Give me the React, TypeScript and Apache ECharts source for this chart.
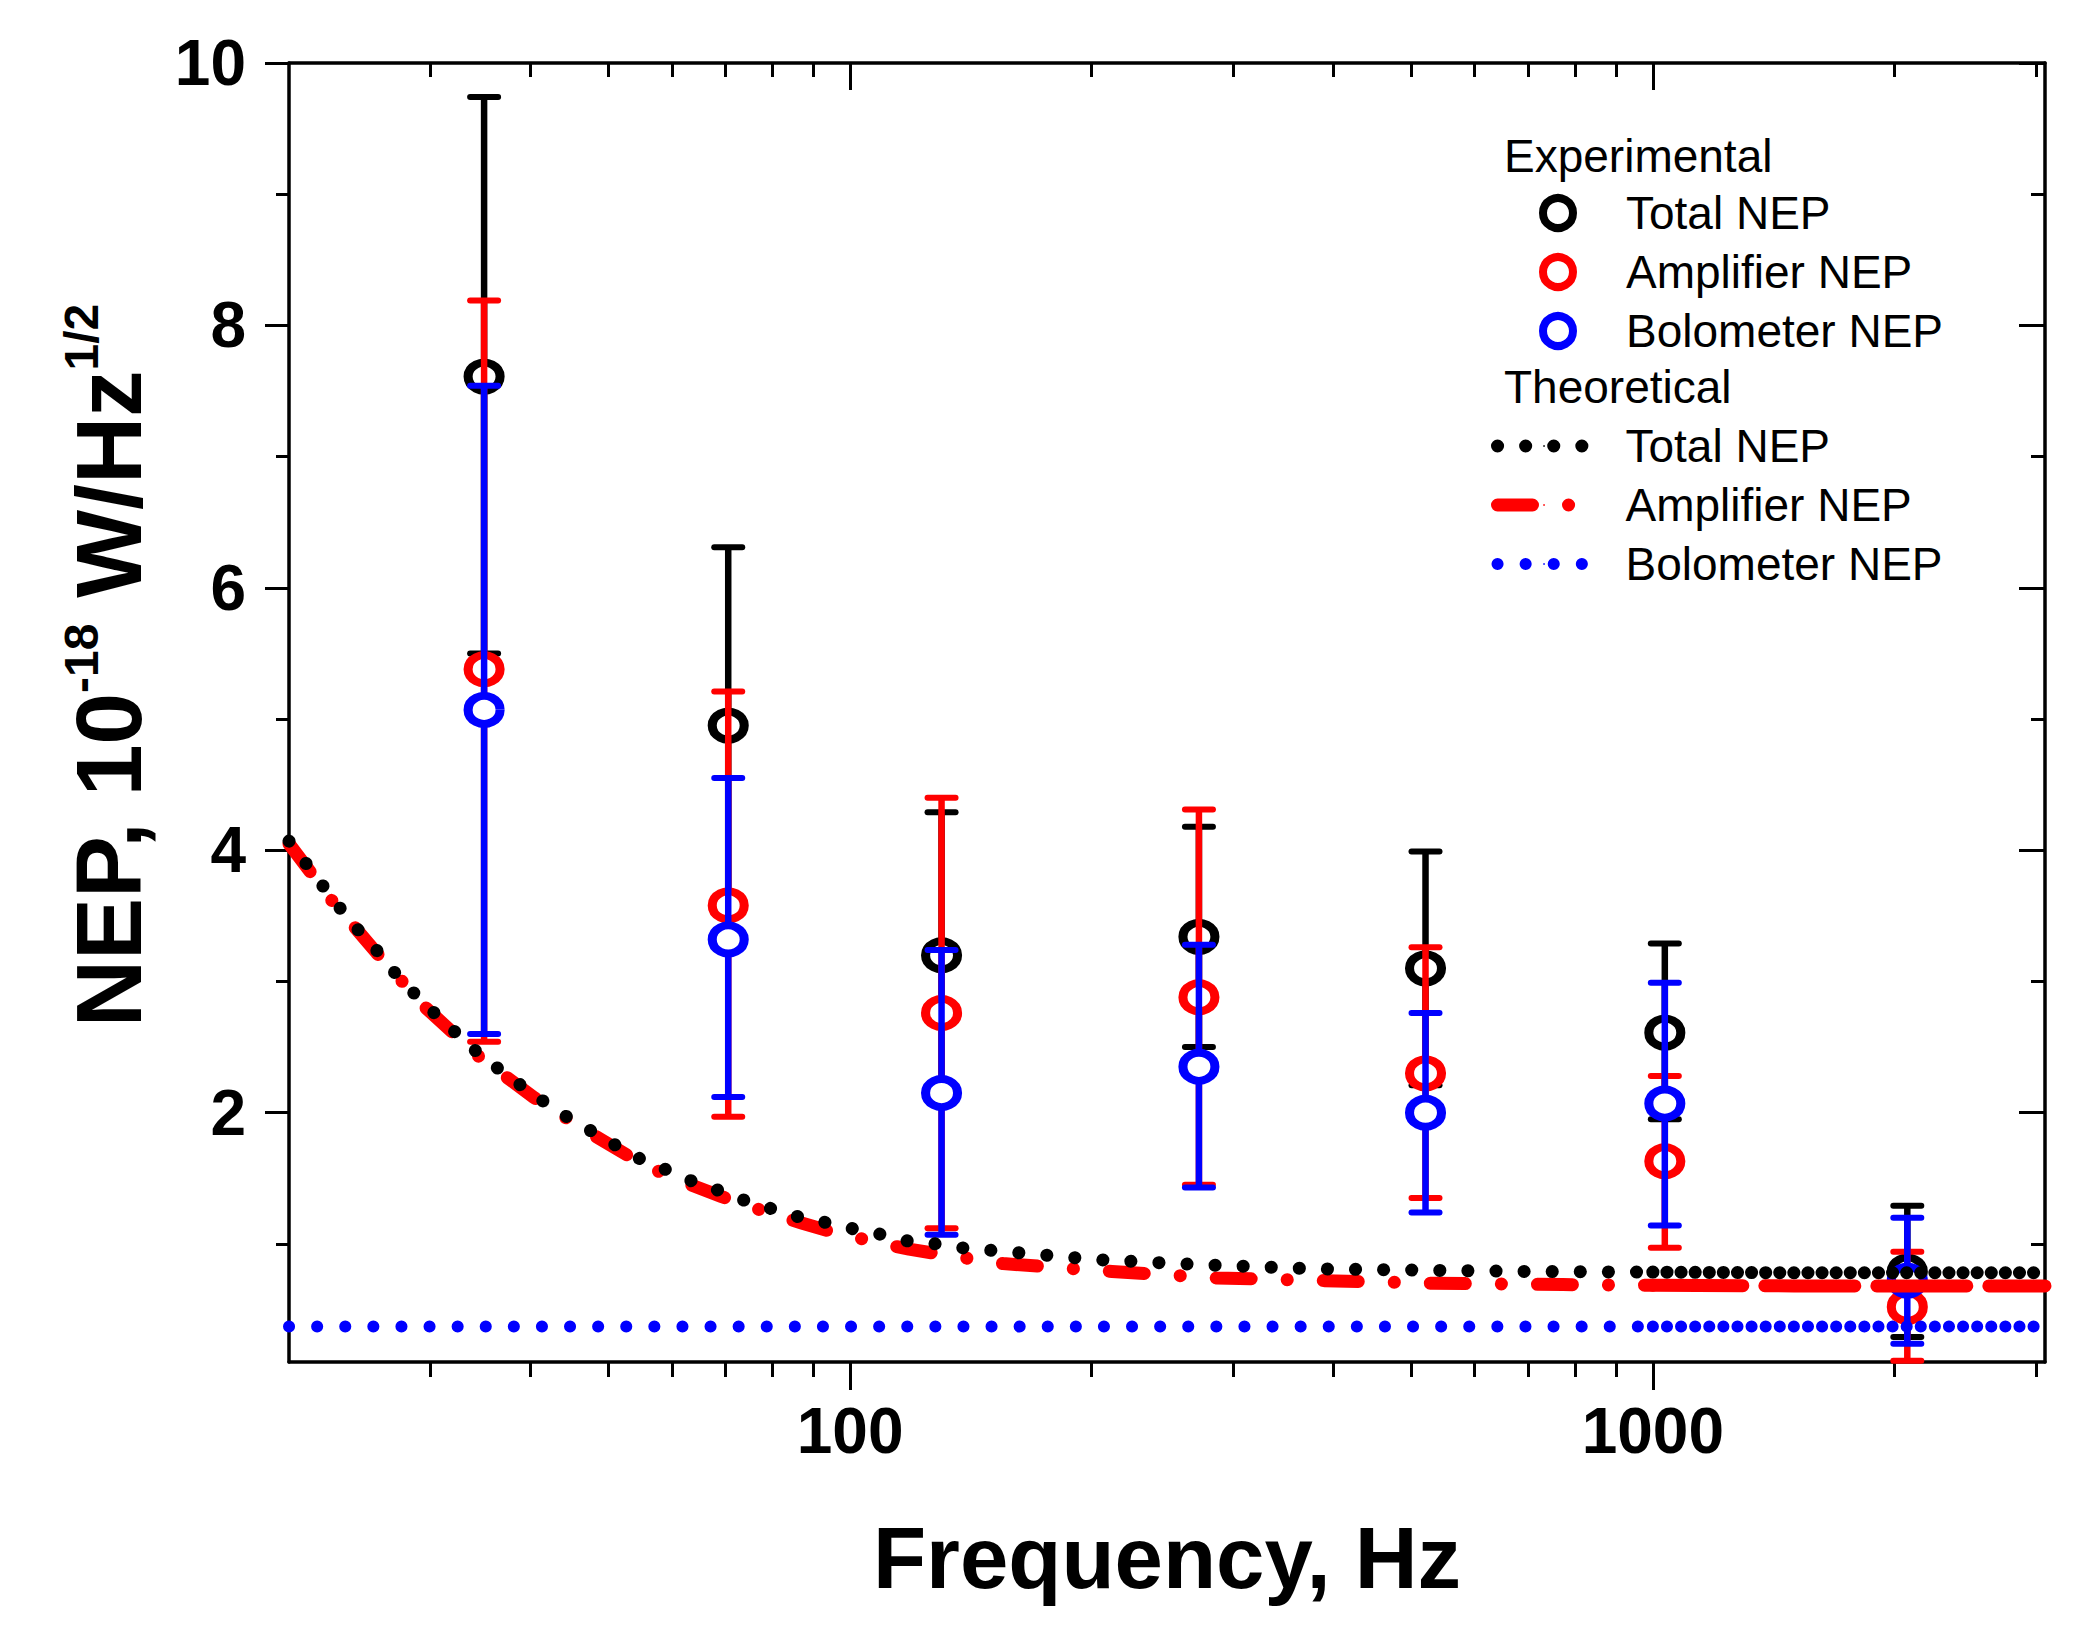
import React, { useEffect, useRef } from "react";
import * as echarts from "echarts";

const FONT = "'Liberation Sans', Arial, Helvetica, sans-serif";

// ---------- Experimental data (frequency in Hz, NEP in 1e-18 W/Hz^1/2) ----------
const freqHz = [35, 70.5, 130, 272, 521, 1035, 2075];

const totalNEP = [7.61, 4.95, 3.2, 3.34, 3.1, 2.61, 0.79];
const totalLow = [5.5, 3.6, 2.11, 2.5, 2.21, 1.95, 0.29];
const totalHigh = [9.74, 6.31, 4.29, 4.18, 3.99, 3.29, 1.29];

const ampNEP = [5.38, 3.58, 2.76, 2.88, 2.3, 1.63, 0.52];
const ampLow = [2.54, 1.97, 1.12, 1.45, 1.35, 0.97, 0.11];
const ampHigh = [8.19, 5.21, 4.4, 4.31, 3.26, 2.28, 0.94];

const boloNEP = [5.07, 3.32, 2.15, 2.35, 2.0, 2.07, 0.72];
const boloLow = [2.6, 2.12, 1.07, 1.43, 1.24, 1.14, 0.24];
const boloHigh = [7.54, 4.55, 3.24, 3.28, 2.76, 2.99, 1.2];

// ---------- Theoretical curves ----------
const theoTotalFreq = [20, 21.3, 22.6, 24, 25.7, 27.4, 29.6, 32, 34.6, 37.3, 40.3, 43.5, 47, 50.8, 54.7, 59.3, 64, 69.2, 74.7, 80.7, 87, 93.9, 101.7, 109.9, 118.4, 127.9, 138, 203, 277, 379, 515, 698, 1000];
const theoTotalVal = [4.07, 3.85, 3.64, 3.44, 3.24, 3.03, 2.82, 2.63, 2.44, 2.29, 2.14, 2.0, 1.88, 1.76, 1.65, 1.56, 1.47, 1.4, 1.32, 1.26, 1.2, 1.16, 1.11, 1.07, 1.02, 1.0, 0.97, 0.88, 0.84, 0.81, 0.8, 0.79, 0.785];
const theoTotalHiFreq = [1000, 1500, 2000, 3080];
const theoTotalHiVal = [0.785, 0.78, 0.78, 0.78];

const theoAmpFreq = [20, 22.6, 25.7, 29.6, 34.6, 40.3, 47, 54.7, 59.3, 64, 69.2, 74.7, 80.7, 87, 93.9, 101.7, 109.9, 118.4, 130, 155, 212, 286, 390, 531, 773, 1000];
const theoAmpVal = [4.05, 3.62, 3.22, 2.8, 2.42, 2.12, 1.86, 1.62, 1.52, 1.44, 1.36, 1.29, 1.22, 1.16, 1.1, 1.05, 1.0, 0.96, 0.92, 0.85, 0.79, 0.74, 0.72, 0.7, 0.69, 0.685];
const theoAmpHiFreq = [1000, 1500, 2000, 3080];
const theoAmpHiVal = [0.685, 0.68, 0.68, 0.68];

const theoBoloFreq = [20, 1000];
const theoBoloVal = [0.37, 0.37];
const theoBoloHiFreq = [1000, 3080];
const theoBoloHiVal = [0.37, 0.37];

// ---------- Axes ----------
const xMin = 20;
const xMax = 3080;
const yMin = 0.1;
const yMax = 10;
const xMajorTicks = [100, 1000];
const xMinorTicks = [30, 40, 50, 60, 70, 80, 90, 200, 300, 400, 500, 600, 700, 800, 900, 2000, 3000];
const yMajorTicks = [2, 4, 6, 8, 10];
const yMinorTicks = [1, 3, 5, 7, 9];

const expNames = ["Total NEP", "Amplifier NEP", "Bolometer NEP"];
const theoNames = ["Total NEP ", "Amplifier NEP ", "Bolometer NEP "];

const BLACK = "#000000";
const RED = "#ff0000";
const BLUE = "#0000ff";

function zip(xs: number[], ys: number[]) {
  return xs.map((x, i) => [x, ys[i]]);
}

function errorBars(name: string, low: number[], high: number[], color: string, z: number) {
  return {
    type: "custom",
    name,
    xAxisIndex: 0,
    yAxisIndex: 0,
    z,
    silent: true,
    encode: { x: 0, y: [1, 2] },
    data: freqHz.map((f, i) => [f, low[i], high[i]]),
    renderItem: (params: any, api: any) => {
      const x = api.value(0);
      const lo = api.coord([x, api.value(1)]);
      const hi = api.coord([x, api.value(2)]);
      const w = 14;
      const st = { stroke: color, lineWidth: 6, lineCap: "round" };
      return {
        type: "group",
        children: [
          { type: "line", shape: { x1: lo[0], y1: lo[1], x2: hi[0], y2: hi[1] }, style: { stroke: color, lineWidth: 6.5 } },
          { type: "line", shape: { x1: hi[0] - w, y1: hi[1], x2: hi[0] + w, y2: hi[1] }, style: st },
          { type: "line", shape: { x1: lo[0] - w, y1: lo[1], x2: lo[0] + w, y2: lo[1] }, style: st },
        ],
      };
    },
  };
}

function points(name: string, vals: number[], color: string, z: number) {
  return {
    type: "scatter",
    name,
    xAxisIndex: 0,
    yAxisIndex: 0,
    z,
    symbol: "circle",
    symbolSize: [32, 28],
    itemStyle: { color: "#ffffff", borderColor: color, borderWidth: 8.5, opacity: 1 },
    data: zip(freqHz, vals),
  };
}

function curve(name: string, xs: number[], ys: number[], color: string, width: number, dash: number[]) {
  return {
    type: "line",
    name,
    xAxisIndex: 0,
    yAxisIndex: 0,
    z: 10,
    symbol: "none",
    showSymbol: false,
    silent: true,
    lineStyle: { color, width, type: dash, cap: "round", join: "round" },
    itemStyle: { color },
    data: zip(xs, ys),
  };
}

const tickLine = { color: BLACK, width: 3 };

function xAxisDef(position: string, showLine: boolean, inside: boolean, length: number, ticks: number[], extra: any = {}) {
  return {
    type: "log",
    logBase: 10,
    min: xMin,
    max: xMax,
    position,
    axisLine: { show: showLine, onZero: false, lineStyle: { color: BLACK, width: 3.5 } },
    axisTick: { show: true, inside, length, lineStyle: tickLine, customValues: ticks },
    axisLabel: { show: false },
    splitLine: { show: false },
    ...extra,
  };
}

function yAxisDef(position: string, showLine: boolean, inside: boolean, length: number, ticks: number[], extra: any = {}) {
  return {
    type: "value",
    min: yMin,
    max: yMax,
    position,
    axisLine: { show: showLine, onZero: false, lineStyle: { color: BLACK, width: 3.5 } },
    axisTick: { show: true, inside, length, lineStyle: tickLine, customValues: ticks },
    axisLabel: { show: false },
    splitLine: { show: false },
    ...extra,
  };
}

export default function App() {
  const ref = useRef<HTMLDivElement>(null);

  useEffect(() => {
    document.body.style.margin = "0";
    if (!ref.current) return;
    const chart = echarts.init(ref.current, undefined, { renderer: "svg" });

    const option: any = {
      animation: false,
      backgroundColor: "#ffffff",
      textStyle: { fontFamily: FONT },
      grid: { left: 289, right: 35, top: 63, bottom: 278, containLabel: false },
      xAxis: [
        xAxisDef("bottom", true, false, 28, xMajorTicks, {
          axisLabel: {
            show: true,
            customValues: xMajorTicks,
            margin: 37,
            fontSize: 64,
            fontWeight: "bold",
            fontFamily: FONT,
            color: BLACK,
            lineHeight: 64,
            formatter: (v: number) => String(Math.round(v)),
          },
          name: "Frequency, Hz",
          nameLocation: "middle",
          nameGap: 152,
          nameTextStyle: { fontSize: 87, fontWeight: "bold", fontFamily: FONT, color: BLACK, lineHeight: 87 },
        }),
        xAxisDef("bottom", false, false, 15, xMinorTicks),
        xAxisDef("top", true, true, 27, xMajorTicks),
        xAxisDef("top", false, true, 14, xMinorTicks),
      ],
      yAxis: [
        yAxisDef("left", true, false, 24, yMajorTicks, {
          axisLabel: {
            show: true,
            customValues: yMajorTicks,
            margin: 43,
            fontSize: 64,
            fontWeight: "bold",
            fontFamily: FONT,
            color: BLACK,
          },
          name: "{b|NEP, 10}{s|-18}{b| W/Hz}{s|1/2}",
          nameLocation: "middle",
          nameRotate: 90,
          nameGap: 128,
          nameTextStyle: {
            padding: [0, 0, 0, 94],
            rich: {
              b: { fontSize: 93, fontWeight: "bold", fontFamily: FONT, color: BLACK, lineHeight: 104 },
              s: { fontSize: 48, fontWeight: "bold", fontFamily: FONT, color: BLACK, lineHeight: 28, verticalAlign: "top" },
            },
          },
        }),
        yAxisDef("left", false, false, 13, yMinorTicks),
        yAxisDef("right", true, true, 26, yMajorTicks),
        yAxisDef("right", false, true, 14, yMinorTicks),
      ],
      legend: [
        {
          data: expNames.map((n) => ({ name: n, itemStyle: { borderWidth: 8 } })),
          orient: "vertical",
          left: 1539,
          top: 188,
          padding: 0,
          itemWidth: 66,
          itemHeight: 30,
          itemGap: 9,
          selectedMode: false,
          itemStyle: { borderWidth: 8 },
          textStyle: { fontSize: 46, fontFamily: FONT, color: BLACK, lineHeight: 50, padding: [0, 0, 0, 30] },
        },
        {
          data: [
            { name: theoNames[0], lineStyle: { width: 13 } },
            { name: theoNames[1], lineStyle: { width: 13 } },
            { name: theoNames[2], lineStyle: { width: 12 } },
          ],
          orient: "vertical",
          left: 1491,
          top: 421,
          padding: 0,
          itemWidth: 93,
          itemHeight: 2,
          itemGap: 9,
          selectedMode: false,
          formatter: (n: string) => n.trim(),
          textStyle: { fontSize: 46, fontFamily: FONT, color: BLACK, lineHeight: 50, padding: [0, 0, 0, 30] },
        },
      ],
      graphic: [
        {
          type: "text",
          x: 1504,
          y: 156,
          silent: true,
          style: { text: "Experimental", fontSize: 46, fontFamily: FONT, fill: BLACK, align: "left", verticalAlign: "middle" },
        },
        {
          type: "text",
          x: 1504,
          y: 387,
          silent: true,
          style: { text: "Theoretical", fontSize: 46, fontFamily: FONT, fill: BLACK, align: "left", verticalAlign: "middle" },
        },
      ],
      series: [
        errorBars("Total NEP err", totalLow, totalHigh, BLACK, 2),
        points(expNames[0], totalNEP, BLACK, 3),
        errorBars("Amplifier NEP err", ampLow, ampHigh, RED, 4),
        points(expNames[1], ampNEP, RED, 5),
        errorBars("Bolometer NEP err", boloLow, boloHigh, BLUE, 6),
        points(expNames[2], boloNEP, BLUE, 7),
        curve(theoNames[2], theoBoloFreq, theoBoloVal, BLUE, 12, [0.1, 28]),
        curve("Bolometer NEP hi", theoBoloHiFreq, theoBoloHiVal, BLUE, 12, [0.1, 14]),
        curve(theoNames[1], theoAmpFreq, theoAmpVal, RED, 13, [35, 36, 0.1, 36]),
        curve("Amplifier NEP hi", theoAmpHiFreq, theoAmpHiVal, RED, 13, [90, 22]),
        curve(theoNames[0], theoTotalFreq, theoTotalVal, BLACK, 13, [0.1, 28]),
        curve("Total NEP hi", theoTotalHiFreq, theoTotalHiVal, BLACK, 13, [0.1, 14]),
      ],
    };

    chart.setOption(option);
    return () => {
      chart.dispose();
    };
  }, []);

  return <div ref={ref} style={{ width: 2080, height: 1640 }} />;
}
